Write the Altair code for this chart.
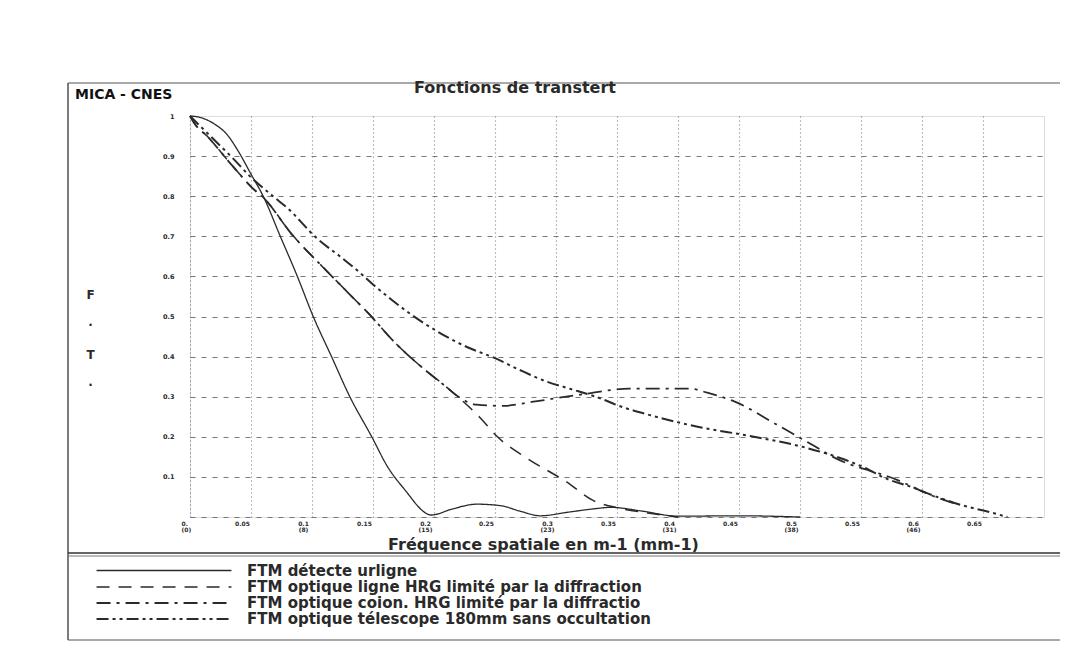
import altair as alt
import pandas as pd

# ---- data ----
series_names = [
    "FTM détecte urligne",
    "FTM optique ligne HRG limité par la diffraction",
    "FTM optique coion. HRG limité par la diffractio",
    "FTM optique télescope 180mm sans occultation",
]

det_x = [0, 0.01, 0.02, 0.03, 0.04, 0.05, 0.06, 0.074, 0.088, 0.101, 0.116, 0.131, 0.149,
         0.162, 0.175, 0.198, 0.215, 0.235, 0.255, 0.27, 0.287, 0.31, 0.33, 0.345, 0.37, 0.40, 0.45, 0.50]
det_y = [1.0, 0.995, 0.98, 0.955, 0.91, 0.855, 0.80, 0.70, 0.60, 0.50, 0.40, 0.30, 0.20,
         0.125, 0.072, 0.005, 0.02, 0.032, 0.028, 0.015, 0.003, 0.012, 0.02, 0.024, 0.015, 0.002, 0.003, 0.0]

ligne_x = [0, 0.004, 0.014, 0.035, 0.053, 0.059, 0.084, 0.109, 0.129, 0.149, 0.166, 0.186, 0.211,
           0.238, 0.252, 0.276, 0.309, 0.33, 0.352, 0.375, 0.40]
ligne_y = [1.0, 0.98, 0.95, 0.875, 0.815, 0.80, 0.703, 0.623, 0.561, 0.499, 0.441, 0.384, 0.322,
           0.247, 0.20, 0.147, 0.087, 0.042, 0.022, 0.01, 0.0]

colon_x = [0, 0.004, 0.014, 0.035, 0.053, 0.059, 0.084, 0.109, 0.129, 0.149, 0.166, 0.186, 0.211,
           0.22, 0.235, 0.257, 0.28, 0.32, 0.36, 0.41, 0.424, 0.447, 0.48, 0.51, 0.527, 0.58, 0.607, 0.63]
colon_y = [1.0, 0.98, 0.95, 0.875, 0.815, 0.80, 0.703, 0.623, 0.561, 0.499, 0.441, 0.384, 0.322,
           0.30, 0.28, 0.277, 0.287, 0.305, 0.32, 0.32, 0.31, 0.287, 0.232, 0.18, 0.15, 0.092, 0.055, 0.03]

tele_x = [0, 0.025, 0.035, 0.049, 0.068, 0.08, 0.104, 0.125, 0.139, 0.15, 0.166, 0.179, 0.227,
          0.25, 0.27, 0.293, 0.309, 0.338, 0.35, 0.377, 0.418, 0.459, 0.502, 0.53, 0.557, 0.566,
          0.594, 0.608, 0.638, 0.652, 0.67]
tele_y = [1.0, 0.925, 0.895, 0.85, 0.80, 0.77, 0.695, 0.645, 0.61, 0.58, 0.54, 0.51, 0.424,
          0.396, 0.367, 0.337, 0.322, 0.294, 0.279, 0.254, 0.224, 0.202, 0.175, 0.15, 0.117, 0.102,
          0.072, 0.055, 0.025, 0.015, 0.0]

x_ticks = [0, 0.05, 0.1, 0.15, 0.2, 0.25, 0.3, 0.35, 0.4, 0.45, 0.5, 0.55, 0.6, 0.65]
x_tick_main = ["0.", "0.05", "0.1", "0.15", "0.2", "0.25", "0.3", "0.35", "0.4", "0.45", "0.5", "0.55", "0.6", "0.65"]
x_tick_sub = ["(0)", "", "(8)", "", "(15)", "", "(23)", "", "(31)", "", "(38)", "", "(46)", ""]
y_ticks = [0, 0.1, 0.2, 0.3, 0.4, 0.5, 0.6, 0.7, 0.8, 0.9, 1.0]

title_text = "Fonctions de transtert"
corner_text = "MICA - CNES"
x_title = "Fréquence spatiale en m-1 (mm-1)"
y_title = ["F", "·", "T", "·"]

# ---- build table ----
rows = []
for name, xs, ys in zip(series_names, [det_x, ligne_x, colon_x, tele_x], [det_y, ligne_y, colon_y, tele_y]):
    for i, (a, b) in enumerate(zip(xs, ys)):
        rows.append({"serie": name, "f": a, "ftm": b, "ordre": i})
df = pd.DataFrame(rows)

label_arr = "[" + ",".join(
    "['%s','%s']" % (m, s) if s else "['%s']" % m for m, s in zip(x_tick_main, x_tick_sub)
) + "]"
x_label_expr = label_arr + "[round(datum.value / 0.05)]"

FONT = "DejaVu Sans"
INK = "#2a2a2a"
GRID = "#6a6a6a"

W, H = 854, 401

x_scale = alt.Scale(domain=[0, 0.7], nice=False, zero=True)
y_scale = alt.Scale(domain=[0, 1], nice=False)

# legend symbol: a long horizontal stroke (custom path in the unit square, scaled by sqrt(size)/2)
SYM_SIZE = 182
LEG_SYMBOL = "M-10,0H10"

lines = alt.Chart(df).mark_line(interpolate="monotone", color=INK).encode(
    x=alt.X("f:Q", scale=x_scale,
            axis=alt.Axis(values=x_ticks, grid=True, gridDash=[1, 3], gridColor=GRID, gridWidth=1.1,
                          gridOpacity=0.9, domain=False, ticks=False, labelExpr=x_label_expr,
                          labelFont=FONT, labelFontSize=6, labelFontWeight="bold", labelColor=INK,
                          labelPadding=3, labelOffset=-9, labelLineHeight=6.5, labelBaseline="top",
                          title=x_title, titleFont=FONT, titleFontSize=16, titleFontWeight="bold",
                          titleColor=INK, titleX=353, titleY=27, titleAnchor="middle",
                          titleBaseline="middle")),
    y=alt.Y("ftm:Q", scale=y_scale,
            axis=alt.Axis(values=y_ticks, grid=True, gridDash=[5, 6], gridColor=GRID, gridWidth=1.1,
                          gridOpacity=alt.condition("datum.value == 1", alt.value(0), alt.value(0.9)),
                          domain=False, ticks=False,
                          labelExpr="datum.value == 0 ? '' : format(datum.value, '.1~f')",
                          labelFont=FONT, labelFontSize=6.5, labelFontWeight="bold", labelColor=INK,
                          labelPadding=16,
                          title=y_title, titleAngle=0, titleFont=FONT, titleFontSize=12,
                          titleFontWeight="bold", titleColor=INK, titleLineHeight=30,
                          titleX=-100, titleY=173, titleBaseline="top", titleAlign="center")),
    strokeDash=alt.StrokeDash("serie:N", scale=alt.Scale(domain=series_names,
                              range=[[1, 0], [13, 9], [14, 6, 3, 6], [12, 4, 3, 4, 3, 4]]),
                              sort=series_names,
                              legend=alt.Legend(title=None, orient="none", legendX=-34, legendY=447,
                                                symbolType=LEG_SYMBOL, symbolSize=SYM_SIZE,
                                                symbolStrokeWidth=1.6, symbolStrokeColor=INK,
                                                labelFont=FONT, labelFontSize=15,
                                                labelFontWeight="bold", labelColor=INK,
                                                labelLimit=0, labelOffset=75, rowPadding=-2.3)),
    strokeWidth=alt.StrokeWidth("serie:N", scale=alt.Scale(domain=series_names, range=[1.3, 2.0, 1.1, 1.0]),
                                legend=None),
    order="ordre:Q",
)

deco = pd.DataFrame({"k": [0]})
base = alt.Chart(deco)
frame = alt.layer(
    base.mark_rule(color="#555", strokeWidth=1.2).encode(x=alt.value(-122), x2=alt.value(870), y=alt.value(-33)),
    base.mark_rule(color="#444", strokeWidth=1.4).encode(x=alt.value(-122), y=alt.value(-33), y2=alt.value(524)),
    base.mark_rule(color="#333", strokeWidth=1.6).encode(x=alt.value(-122), x2=alt.value(870), y=alt.value(437)),
    base.mark_rule(color="#777", strokeWidth=1.0).encode(x=alt.value(-122), x2=alt.value(870), y=alt.value(440)),
    base.mark_rule(color="#555", strokeWidth=1.2).encode(x=alt.value(-122), x2=alt.value(870), y=alt.value(524)),
    base.mark_text(text=corner_text, font=FONT, fontSize=14, fontWeight="bold", color="#111",
                   align="left", baseline="middle").encode(x=alt.value(-115), y=alt.value(-21)),
)

chart = alt.layer(lines, frame).properties(
    width=W, height=H,
    title=alt.TitleParams(title_text, font=FONT, fontSize=16, fontWeight="bold", color=INK,
                          anchor="middle", dx=-102, dy=34, offset=20),
    padding={"left": 182, "top": 108, "right": 18, "bottom": 125},
    autosize=alt.AutoSizeParams(type="none"),
).configure_view(stroke=None).configure(background="white")

chart.save("out.html", embed_options={"renderer": "svg", "actions": False})
